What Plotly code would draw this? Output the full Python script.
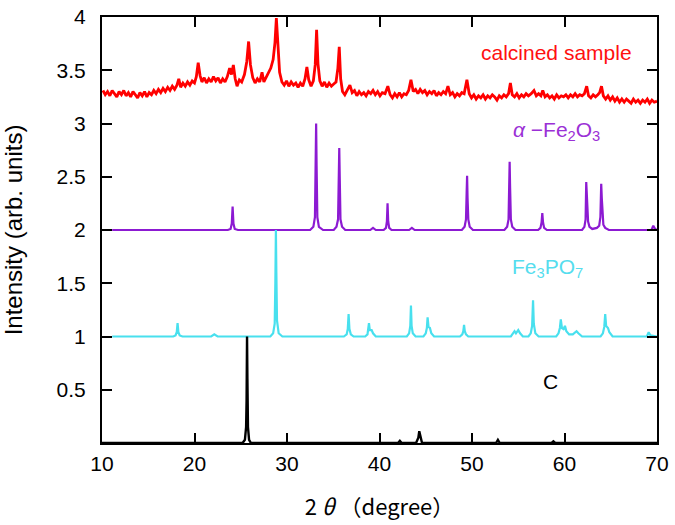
import plotly.graph_objects as go

# ---- data (x = 2theta in degree, y = offset intensity) ----
red_pts = [(10.1,3.31),(10.35,3.27),(10.6,3.30),(10.85,3.26),(11.1,3.31),(11.35,3.28),(11.6,3.25),(11.85,3.30),
 (12.1,3.27),(12.35,3.31),(12.6,3.26),(12.85,3.29),(13.1,3.25),(13.35,3.30),(13.6,3.27),(13.85,3.24),(14.1,3.29),
 (14.35,3.26),(14.6,3.30),(14.85,3.25),(15.1,3.29),(15.35,3.27),(15.6,3.31),(15.85,3.28),(16.1,3.32),(16.35,3.29),
 (16.6,3.33),(16.85,3.30),(17.1,3.34),(17.35,3.31),(17.6,3.35),(17.85,3.32),(18.1,3.36),(18.3,3.42),(18.5,3.34),
 (18.75,3.38),(19.0,3.35),(19.25,3.39),(19.5,3.36),(19.75,3.40),(20.0,3.38),(20.2,3.44),(20.4,3.57),(20.6,3.45),
 (20.8,3.39),(21.05,3.43),(21.3,3.38),(21.55,3.42),(21.8,3.39),(22.05,3.44),(22.3,3.40),(22.55,3.43),(22.8,3.38),
 (23.05,3.42),(23.3,3.39),(23.55,3.44),(23.8,3.52),(24.0,3.46),(24.2,3.55),(24.4,3.42),(24.6,3.35),(24.85,3.41),
 (25.1,3.39),(25.4,3.46),(25.65,3.58),(25.85,3.77),(26.05,3.55),(26.3,3.43),(26.55,3.38),(26.8,3.42),(27.05,3.39),
 (27.3,3.48),(27.5,3.39),(27.75,3.43),(28.0,3.47),(28.25,3.52),(28.5,3.60),(28.7,3.76),(28.85,3.99),(29.0,3.72),
 (29.2,3.48),(29.45,3.39),(29.7,3.36),(29.95,3.40),(30.2,3.35),(30.45,3.39),(30.7,3.36),(30.95,3.38),(31.2,3.34),
 (31.45,3.38),(31.7,3.35),(31.95,3.42),(32.15,3.53),(32.35,3.41),(32.6,3.35),(32.85,3.40),(33.05,3.55),(33.2,3.88),
 (33.35,3.56),(33.55,3.40),(33.8,3.35),(34.05,3.39),(34.3,3.34),(34.55,3.38),(34.8,3.35),(35.05,3.37),(35.3,3.39),
 (35.5,3.52),(35.65,3.72),(35.8,3.42),(36.0,3.30),(36.25,3.27),(36.5,3.31),(36.8,3.36),(37.05,3.29),(37.3,3.31),
 (37.55,3.26),(37.8,3.30),(38.05,3.27),(38.3,3.29),(38.55,3.26),(38.8,3.30),(39.05,3.28),(39.3,3.31),(39.55,3.27),
 (39.8,3.30),(40.05,3.26),(40.3,3.29),(40.6,3.28),(40.9,3.35),(41.15,3.27),(41.4,3.24),(41.65,3.28),(41.9,3.25),
 (42.15,3.29),(42.4,3.25),(42.65,3.28),(42.9,3.27),(43.15,3.31),(43.4,3.41),(43.65,3.30),(43.9,3.32),(44.15,3.28),
 (44.4,3.32),(44.65,3.29),(44.9,3.31),(45.15,3.27),(45.4,3.30),(45.65,3.28),(45.9,3.31),(46.15,3.26),(46.4,3.29),
 (46.65,3.27),(46.9,3.30),(47.15,3.28),(47.4,3.35),(47.65,3.27),(47.9,3.29),(48.15,3.25),(48.4,3.28),(48.65,3.26),
 (48.9,3.29),(49.15,3.28),(49.45,3.41),(49.7,3.28),(49.95,3.24),(50.2,3.27),(50.45,3.23),(50.7,3.26),(50.95,3.24),
 (51.2,3.27),(51.45,3.23),(51.7,3.26),(51.95,3.24),(52.2,3.27),(52.45,3.25),(52.7,3.22),(52.95,3.26),(53.2,3.24),
 (53.45,3.27),(53.7,3.25),(53.95,3.28),(54.15,3.38),(54.35,3.27),(54.6,3.25),(54.85,3.28),(55.1,3.24),(55.35,3.27),
 (55.6,3.25),(55.85,3.28),(56.1,3.26),(56.4,3.28),(56.7,3.31),(56.95,3.26),(57.2,3.28),(57.45,3.26),(57.65,3.31),
 (57.9,3.25),(58.15,3.27),(58.4,3.24),(58.65,3.26),(58.9,3.23),(59.15,3.27),(59.4,3.24),(59.65,3.26),(59.9,3.25),
 (60.15,3.27),(60.4,3.24),(60.65,3.27),(60.9,3.25),(61.15,3.28),(61.4,3.25),(61.65,3.27),(61.9,3.26),(62.15,3.28),
 (62.4,3.35),(62.6,3.26),(62.85,3.24),(63.1,3.27),(63.35,3.25),(63.6,3.27),(63.8,3.29),(64.0,3.35),(64.2,3.26),
 (64.45,3.23),(64.7,3.26),(64.95,3.22),(65.2,3.25),(65.45,3.21),(65.7,3.24),(65.95,3.20),(66.2,3.23),(66.45,3.20),
 (66.7,3.23),(66.95,3.21),(67.2,3.19),(67.45,3.23),(67.7,3.20),(67.95,3.22),(68.2,3.19),(68.45,3.22),(68.7,3.20),
 (68.95,3.23),(69.2,3.19),(69.45,3.22),(69.7,3.20),(70.0,3.21)]

fe2o3_pts = [(11.1,2.0),
 (23.6,2.0),(23.9,2.01),(24.03,2.06),(24.12,2.22),(24.21,2.06),(24.35,2.01),(24.7,2.0),
 (32.5,2.0),(32.85,2.03),(33.02,2.12),(33.1,2.6),(33.15,3.0),(33.2,2.6),(33.28,2.12),(33.45,2.03),(33.9,2.0),
 (35.05,2.0),(35.35,2.03),(35.52,2.1),(35.6,2.5),(35.65,2.77),(35.7,2.5),(35.78,2.1),(35.95,2.03),(36.3,2.0),
 (39.0,2.0),(39.3,2.02),(39.6,2.0),
 (40.45,2.0),(40.7,2.02),(40.8,2.08),(40.87,2.25),(40.94,2.08),(41.05,2.02),(41.3,2.0),
 (43.2,2.0),(43.5,2.02),(43.8,2.0),
 (48.9,2.0),(49.2,2.03),(49.35,2.1),(49.42,2.35),(49.47,2.51),(49.52,2.3),(49.6,2.1),(49.75,2.03),(50.1,2.0),
 (53.5,2.0),(53.8,2.03),(53.95,2.1),(54.02,2.45),(54.07,2.64),(54.12,2.4),(54.2,2.1),(54.35,2.03),(54.7,2.0),
 (57.15,2.0),(57.4,2.02),(57.52,2.07),(57.6,2.16),(57.68,2.07),(57.8,2.02),(58.1,2.0),
 (61.9,2.0),(62.15,2.03),(62.28,2.1),(62.35,2.45),(62.42,2.3),(62.47,2.2),(62.55,2.08),(62.7,2.03),(63.0,2.01),
 (63.5,2.02),(63.75,2.04),(63.88,2.12),(63.97,2.435),(64.03,2.3),(64.1,2.15),(64.2,2.05),(64.4,2.02),(64.8,2.0),
 (69.4,2.0),(69.6,2.04),(69.8,2.01),(70.0,2.0)]

fe3po7_pts = [(11.1,1.0),
 (17.7,1.0),(17.95,1.01),(18.08,1.04),(18.17,1.125),(18.26,1.04),(18.4,1.01),(18.7,1.0),
 (21.8,1.0),(22.14,1.02),(22.5,1.0),
 (28.2,1.0),(28.5,1.03),(28.67,1.12),(28.74,1.5),(28.8,2.0),(28.85,1.6),(28.92,1.15),(29.1,1.03),(29.5,1.0),
 (36.15,1.0),(36.45,1.02),(36.57,1.07),(36.66,1.21),(36.75,1.07),(36.9,1.02),(37.2,1.0),
 (38.45,1.0),(38.7,1.02),(38.8,1.07),(38.86,1.125),(38.95,1.06),(39.15,1.06),(39.3,1.03),(39.6,1.0),
 (42.95,1.0),(43.2,1.03),(43.33,1.1),(43.4,1.29),(43.47,1.1),(43.6,1.03),(43.9,1.0),
 (44.75,1.0),(45.0,1.03),(45.12,1.08),(45.2,1.18),(45.3,1.09),(45.45,1.08),(45.6,1.03),(45.9,1.0),
 (48.7,1.0),(48.95,1.02),(49.06,1.05),(49.14,1.11),(49.22,1.05),(49.35,1.02),(49.6,1.0),
 (54.2,1.0),(54.45,1.03),(54.6,1.05),(54.75,1.03),(55.0,1.06),(55.2,1.03),(55.5,1.0),
 (56.1,1.0),(56.35,1.03),(56.5,1.1),(56.6,1.34),(56.68,1.12),(56.85,1.03),(57.2,1.0),
 (59.1,1.0),(59.35,1.03),(59.5,1.08),(59.6,1.16),(59.72,1.08),(59.9,1.07),(60.05,1.1),(60.2,1.05),(60.5,1.02),
 (60.9,1.02),(61.1,1.04),(61.3,1.05),(61.5,1.03),(61.9,1.0),
 (63.9,1.0),(64.15,1.03),(64.3,1.09),(64.4,1.21),(64.5,1.1),(64.7,1.08),(64.85,1.04),(65.2,1.0),
 (68.9,1.0),(69.1,1.04),(69.3,1.01),(70.0,1.0)]

carbon_pts = [(10.0,0.0),
 (25.2,0.0),(25.45,0.03),(25.58,0.15),(25.63,0.4),(25.68,1.0),(25.72,0.6),(25.78,0.15),(25.9,0.03),(26.1,0.0),
 (42.0,0.0),(42.2,0.02),(42.4,0.0),
 (43.95,0.0),(44.2,0.05),(44.3,0.11),(44.4,0.07),(44.6,0.0),
 (52.6,0.0),(52.8,0.03),(53.0,0.0),
 (58.6,0.0),(58.8,0.015),(59.0,0.0),
 (70.0,0.0)]

series_names = ["calcined sample", "α-Fe2O3", "Fe3PO7", "C"]
series_pts = [red_pts, fe2o3_pts, fe3po7_pts, carbon_pts]
line_colors = ["#FF0000", "#8C1AD2", "#48E0EE", "#000000"]
line_widths = [2.8, 2.2, 2.2, 2.4]

label_texts = ["calcined sample", "<i>α</i> −Fe<sub>2</sub>O<sub>3</sub>", "Fe<sub>3</sub>PO<sub>7</sub>", "C"]
label_x = [59.1, 59.1, 58.2, 58.5]
label_y = [3.67, 2.93, 1.64, 0.58]
label_colors = ["#FF1010", "#9B30D6", "#55DDEE", "#000000"]

y_tickvals = [0.5, 1, 1.5, 2, 2.5, 3, 3.5, 4]
y_ticktext = ["0.5", "1", "1.5", "2", "2.5", "3", "3.5", "4"]
x_tickvals = [10, 20, 30, 40, 50, 60, 70]
x_range = [10, 70]
y_range = [0, 4]

FONT = "Liberation Sans, Arial, sans-serif"

fig = go.Figure()
for name, pts, col, w in zip(series_names, series_pts, line_colors, line_widths):
    fig.add_trace(go.Scatter(x=[p[0] for p in pts], y=[p[1] for p in pts], mode="lines",
                             name=name, line=dict(color=col, width=w), showlegend=False))

# empty trace that brings up the top/right frame axes
fig.add_trace(go.Scatter(x=[], y=[], xaxis="x2", yaxis="y2", mode="lines",
                         showlegend=False, hoverinfo="skip"))

for t, x, y, c in zip(label_texts, label_x, label_y, label_colors):
    fig.add_annotation(x=x, y=y, text=t, showarrow=False, xanchor="center", yanchor="middle",
                       font=dict(family=FONT, size=21, color=c))

axis_common = dict(showline=True, linecolor="black", linewidth=2, mirror=False,
                   ticks="inside", ticklen=10, tickwidth=2, tickcolor="black",
                   showgrid=False, zeroline=False, automargin=False, ticklabeloverflow="allow",
                   tickfont=dict(family=FONT, size=21, color="black"))

fig.update_layout(
    xaxis=dict(range=x_range, tickvals=x_tickvals, ticklabelstandoff=1,
               title=dict(text="2 <i>θ</i> （degree）", standoff=25,
                          font=dict(family="Noto Sans CJK JP, sans-serif", size=22, color="black")),
               **axis_common),
    yaxis=dict(range=y_range, tickvals=y_tickvals, ticktext=y_ticktext, ticklabelstandoff=10,
               title=dict(text="Intensity (arb. units)", standoff=28,
                          font=dict(family=FONT, size=24, color="black")),
               **axis_common),
    xaxis2=dict(range=x_range, tickvals=x_tickvals, overlaying="x", side="top", anchor="y2",
                showticklabels=False, showline=True, linecolor="black", linewidth=2,
                ticks="inside", ticklen=10, tickwidth=2, tickcolor="black",
                showgrid=False, zeroline=False, automargin=False),
    yaxis2=dict(range=y_range, tickvals=y_tickvals, overlaying="y", side="right", anchor="x2",
                showticklabels=False, showline=True, linecolor="black", linewidth=2,
                ticks="inside", ticklen=10, tickwidth=2, tickcolor="black",
                showgrid=False, zeroline=False, automargin=False),
    width=675, height=525, plot_bgcolor="white", paper_bgcolor="white",
    margin=dict(l=102, r=18, t=17, b=82))

# remove the default 8 px page margin so the figure fills the window exactly
fig.write_html("out.html", config={"displayModeBar": False},
               post_script="document.body.style.margin='0';")
